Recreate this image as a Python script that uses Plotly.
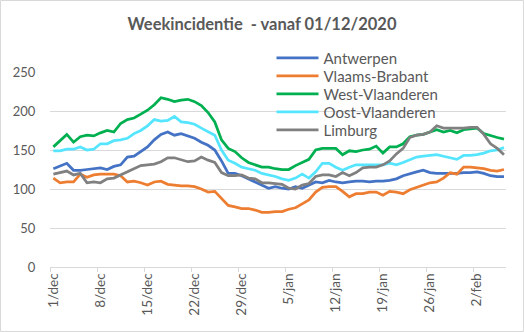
import plotly.graph_objects as go
import pandas as pd

dates = pd.date_range("2020-12-01", "2021-02-06", freq="D")
tick_labels = ["1/dec", "8/dec", "15/dec", "22/dec", "29/dec", "5/jan", "12/jan", "19/jan", "26/jan", "2/feb"]

antwerpen = [126, 130, 133, 124, 124, 125, 126, 127, 125, 129, 131, 141, 142, 148, 154, 163, 170, 173, 169, 171,
             168, 165, 160, 156, 150, 136, 120, 120, 117, 113, 109, 105, 101, 103, 101, 100, 103, 101, 105, 109,
             108, 111, 109, 108, 109, 110, 110, 109, 110, 110, 111, 113, 117, 120, 122, 124, 121, 120, 120, 120,
             120, 121, 121, 122, 120, 117, 116, 116]
vlaams_brabant = [114, 108, 109, 109, 119, 115, 118, 119, 119, 119, 117, 109, 110, 108, 105, 109, 110, 106, 105, 104,
                  104, 103, 100, 96, 97, 88, 79, 77, 75, 75, 73, 70, 70, 71, 71, 74, 76, 81, 86, 96,
                  102, 103, 103, 97, 90, 94, 94, 96, 96, 92, 97, 96, 94, 99, 102, 105, 108, 109, 114, 121,
                  119, 128, 128, 127, 126, 124, 123, 125]
west_vlaanderen = [154, 162, 170, 160, 167, 169, 168, 172, 175, 173, 184, 189, 191, 196, 201, 208, 217, 215, 212, 214,
                   215, 212, 207, 198, 186, 163, 152, 148, 140, 134, 131, 128, 128, 126, 125, 125, 130, 134, 138, 150,
                   152, 152, 152, 144, 149, 148, 150, 151, 155, 146, 154, 154, 158, 167, 169, 170, 173, 176, 173, 175,
                   172, 176, 177, 178, 171, 168, 166, 164]
oost_vlaanderen = [149, 149, 151, 151, 154, 150, 151, 158, 158, 162, 163, 165, 171, 175, 181, 189, 187, 188, 193, 186,
                   185, 183, 178, 173, 169, 150, 137, 133, 128, 126, 124, 120, 118, 116, 113, 111, 114, 119, 114, 122,
                   133, 133, 128, 124, 128, 131, 131, 131, 131, 131, 133, 131, 134, 138, 141, 142, 143, 144, 142, 140,
                   138, 143, 143, 144, 146, 149, 150, 153]
limburg = [119, 121, 123, 118, 120, 108, 109, 108, 113, 114, 118, 122, 126, 130, 131, 132, 135, 140, 140, 137,
           135, 136, 141, 137, 134, 121, 117, 117, 118, 114, 113, 108, 108, 107, 106, 101, 100, 105, 107, 116,
           118, 118, 116, 121, 117, 121, 127, 128, 128, 131, 136, 145, 152, 166, 169, 170, 173, 181, 178, 178,
           178, 178, 179, 179, 170, 158, 152, 144]

series = [
    ("Antwerpen", antwerpen, "#4472C4"),
    ("Vlaams-Brabant", vlaams_brabant, "#ED7D31"),
    ("West-Vlaanderen", west_vlaanderen, "#00B050"),
    ("Oost-Vlaanderen", oost_vlaanderen, "#55E5FF"),
    ("Limburg", limburg, "#808080"),
]

FONT = "Lato"
GREY = "#595959"
L, R, T, B = 50, 18, 72, 65
W, H = 524, 332
pw, ph = W - L - R, H - T - B

idx = list(range(len(dates)))
fig = go.Figure()
legend_layout = {}
for k, (name, vals, col) in enumerate(series):
    lg = "legend" if k == 0 else f"legend{k + 1}"
    fig.add_trace(go.Scatter(x=idx, y=vals, mode="lines", name=name, legend=lg,
                             line=dict(color=col, width=2.75)))
    ypix = 58.2 + 18.0 * k
    legend_layout[lg] = dict(x=(271.5 - L) / pw, xanchor="left", y=(H - B - ypix) / ph, yanchor="middle",
                             bgcolor="rgba(0,0,0,0)", itemwidth=42,
                             font=dict(size=15, color=GREY, family=FONT))

tickpos = [i for i, d in enumerate(dates) if (d - dates[0]).days % 7 == 0]
fig.update_layout(
    width=W, height=H,
    margin=dict(l=L, r=R, t=T, b=B),
    paper_bgcolor="white", plot_bgcolor="white",
    font=dict(family=FONT, color=GREY),
    title=dict(text="<b>Weekincidentie  - vanaf 01/12/2020</b>", x=0.5, xanchor="center",
               y=1 - 24 / H, yanchor="middle", font=dict(size=16.5, color=GREY, family=FONT)),
    showlegend=True,
    xaxis=dict(range=[-0.5, len(dates) - 0.7], tickmode="array", tickvals=tickpos,
               ticktext=tick_labels[:len(tickpos)], tickangle=-90, ticks="",
               showgrid=False, showline=True, linecolor="#D9D9D9", linewidth=1,
               tickfont=dict(size=13.5, color=GREY, family=FONT), zeroline=False,
               minor=dict(tickmode="array", tickvals=[p - 0.5 for p in tickpos], ticks="outside",
                          ticklen=4, tickcolor="#D9D9D9", showgrid=False)),
    yaxis=dict(range=[0, 250], tickvals=[0, 50, 100, 150, 200, 250], showgrid=True,
               gridcolor="#D9D9D9", gridwidth=1, zeroline=False, showline=False,
               tickfont=dict(size=13, color=GREY, family=FONT), ticks="outside", ticklen=11,
               tickcolor="rgba(0,0,0,0)"),
    shapes=[dict(type="rect", xref="paper", yref="paper",
                 x0=-(L - 0.5) / pw, x1=(W - L - 0.5) / pw,
                 y0=-(B - 0.5) / ph, y1=(H - B - 0.5) / ph,
                 line=dict(color="#D9D9D9", width=1), fillcolor="rgba(0,0,0,0)", layer="below")],
    **legend_layout,
)
fig.write_html("out.html")
